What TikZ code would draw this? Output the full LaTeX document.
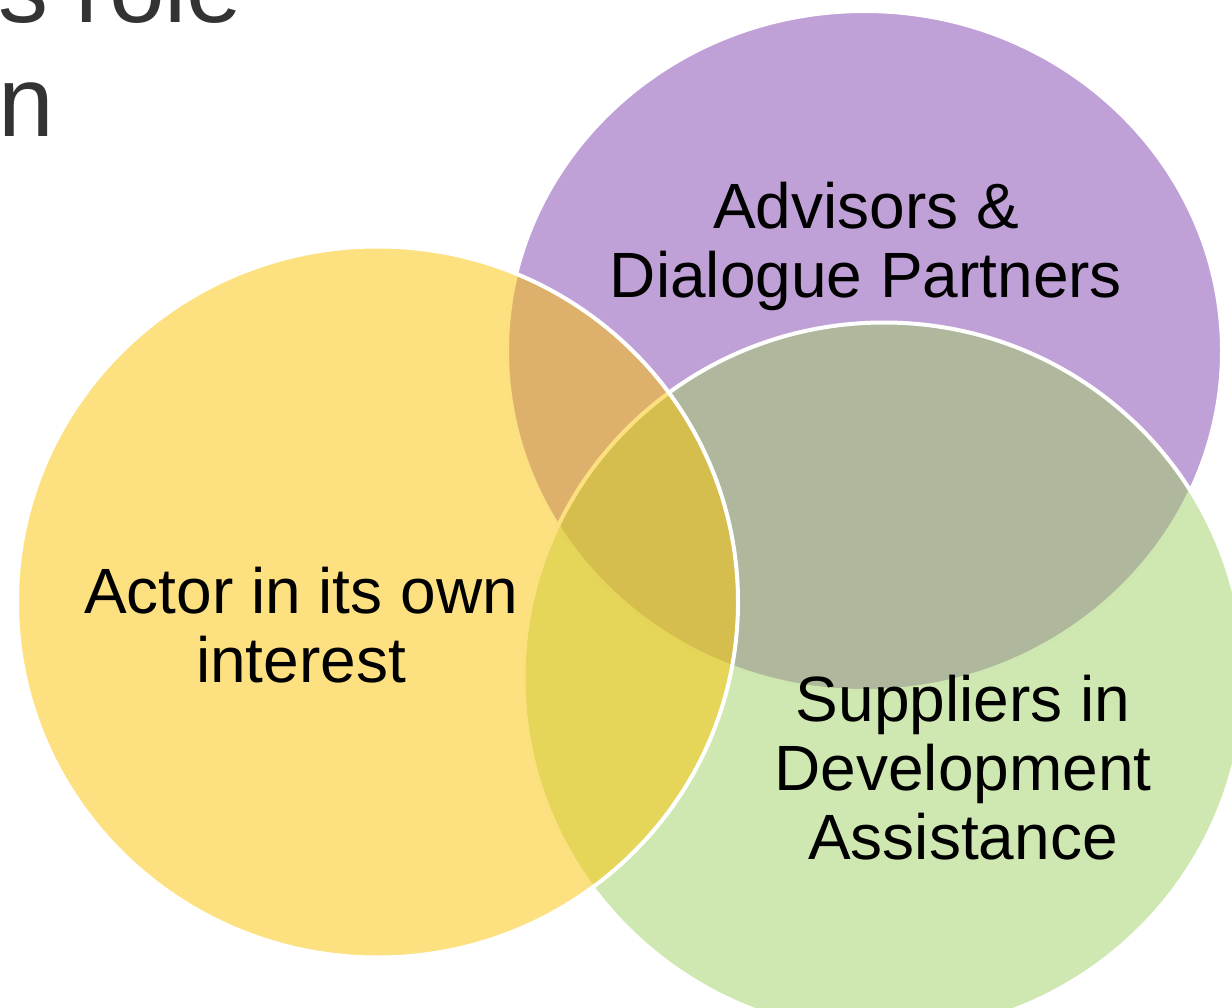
\documentclass[tikz,border=0pt]{standalone}
\usepackage{fontspec}
\setmainfont{Liberation Sans}
\usetikzlibrary{shapes.geometric}
\definecolor{actorfill}{RGB}{251,195,1}
\definecolor{advisorfill}{RGB}{129,67,175}
\definecolor{supplierfill}{RGB}{159,209,99}
\definecolor{titlegray}{RGB}{51,51,51}
\tikzset{vennset/.style={shape=ellipse,draw=white,line width=4pt,
        fill opacity=0.5,inner sep=0pt,
        minimum width=715pt,minimum height=680pt},
        bigset/.style={vennset,minimum width=721pt,minimum height=711pt},
        setname/.style={align=center,inner sep=0pt,anchor=south,
        font=\fontsize{64}{69}\selectfont}}

\begin{document}
\begin{tikzpicture}[x=1pt,y=-1pt]
  \clip (0,0) rectangle (1232,1008);
  %% title, cut off by the page
  \node[anchor=south west,align=left,inner sep=0pt,text=titlegray,
        font=\fontsize{100}{114}\selectfont] (title) at (-2,137) {s role\\n};
  %% the three sets
  \node[vennset,fill=advisorfill] (advisors) at (864.5,351) {};
  \node[bigset,fill=supplierfill] (suppliers) at (884,678) {};
  \node[bigset,fill=actorfill] (actor) at (377.5,602) {};
  %% set names
  \node[setname] (advisorsname) at (866,310.5) {Advisors \&\\Dialogue Partners};
  \node[setname] (suppliersname) at (963,860)
       {Suppliers in\\Development\\Assistance};
  \node[setname] (actorname) at (301,683) {Actor in its own\\interest};
\end{tikzpicture}
\end{document}
